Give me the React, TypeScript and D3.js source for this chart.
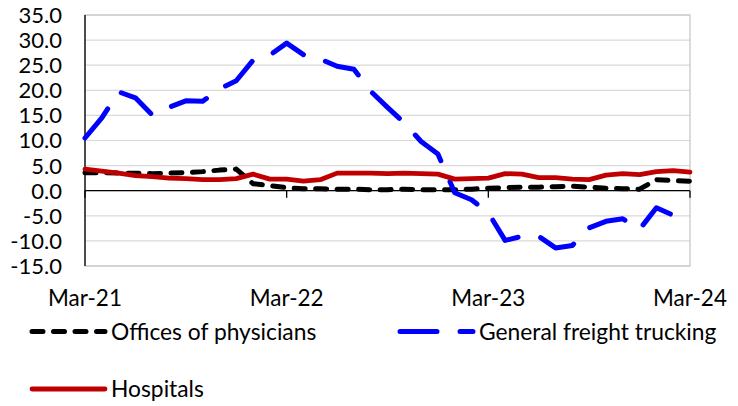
import * as d3 from 'd3';

const months = [
  'Mar-21', 'Apr-21', 'May-21', 'Jun-21', 'Jul-21', 'Aug-21', 'Sep-21', 'Oct-21', 'Nov-21', 'Dec-21', 'Jan-22', 'Feb-22',
  'Mar-22', 'Apr-22', 'May-22', 'Jun-22', 'Jul-22', 'Aug-22', 'Sep-22', 'Oct-22', 'Nov-22', 'Dec-22', 'Jan-23', 'Feb-23',
  'Mar-23', 'Apr-23', 'May-23', 'Jun-23', 'Jul-23', 'Aug-23', 'Sep-23', 'Oct-23', 'Nov-23', 'Dec-23', 'Jan-24', 'Feb-24',
  'Mar-24',
];
const xTickLabels = ['Mar-21', 'Mar-22', 'Mar-23', 'Mar-24'];
const yTicks = [35, 30, 25, 20, 15, 10, 5, 0, -5, -10, -15];

const physicians = [
  3.6, 3.6, 3.5, 3.5, 3.4, 3.5, 3.6, 3.8, 4.1, 4.3, 1.4, 1.0,
  0.6, 0.4, 0.4, 0.3, 0.3, 0.2, 0.2, 0.3, 0.2, 0.2, 0.2, 0.3,
  0.5, 0.6, 0.7, 0.7, 0.8, 0.9, 0.7, 0.5, 0.4, 0.3, 2.2, 2.0,
  1.9,
];
const trucking: (number | null)[] = [
  10.5, 14.5, 19.7, 18.5, 15.1, 16.6, 17.9, 17.8, 20.3, 21.9, 26.0, 27.0,
  29.4, 27.1, 26.2, 24.8, 24.2, 19.8, 16.6, 13.5, 9.8, 7.3, -0.4, -1.8,
  -4.4, -9.9, -9.1, -9.1, -11.4, -10.9, -7.4, -6.1, -5.6, -7.7, -3.4, -4.9,
  null,
];
const hospitals = [
  4.3, 3.9, 3.5, 3.0, 2.8, 2.5, 2.4, 2.2, 2.2, 2.4, 3.3, 2.3,
  2.3, 1.9, 2.2, 3.5, 3.5, 3.5, 3.4, 3.5, 3.4, 3.3, 2.3, 2.4,
  2.5, 3.4, 3.3, 2.6, 2.6, 2.3, 2.2, 3.1, 3.4, 3.2, 3.8, 4.0,
  3.7,
];

const series = [
  { name: 'Offices of physicians', values: physicians, color: '#000000', width: 5, dash: '11 10.5' },
  { name: 'General freight trucking', values: trucking, color: '#0000FF', width: 5, dash: '37 23' },
  { name: 'Hospitals', values: hospitals, color: '#C00000', width: 4.8, dash: null },
];

const FONT = 'Lato, "Open Sans", sans-serif';

export default function App() {
  const left = 85, right = 690, top = 15, bottom = 266;

  const x = d3.scalePoint<string>().domain(months).range([left, right]);
  const y = d3.scaleLinear().domain([-15, 35]).range([bottom, top]);

  const line = d3.line<number | null>()
    .defined(d => d !== null)
    .x((_, i) => x(months[i]) as number)
    .y(d => y(d as number));

  const legendItems = [
    { s: series[0], lx: 32, ly: 331.5 },
    { s: series[1], lx: 400, ly: 331.5 },
    { s: series[2], lx: 32, ly: 389 },
  ];

  return (
    <svg width={738} height={406} style={{ position: 'absolute', left: 0, top: 0, background: '#fff' }}
      fontFamily={FONT}>
      {/* gridlines */}
      {yTicks.map(t => (
        <line key={t} x1={left} x2={right} y1={y(t)} y2={y(t)} stroke="#D9D9D9" strokeWidth={1.2} />
      ))}
      <rect x={left} y={top} width={right - left} height={bottom - top} fill="none" stroke="#C8C8C8" strokeWidth={1.3} />

      {/* y axis */}
      <line x1={left} x2={left} y1={top} y2={bottom} stroke="#000" strokeWidth={1.3} />
      {yTicks.map(t => (
        <text key={t} x={62} y={y(t)} dy="0.36em" textAnchor="end" fontSize={22} fill="#000">
          {t.toFixed(1)}
        </text>
      ))}

      {/* zero axis with ticks */}
      <line x1={left} x2={right} y1={y(0)} y2={y(0)} stroke="#000" strokeWidth={1.3} />
      {xTickLabels.map(m => (
        <line key={m} x1={x(m)} x2={x(m)} y1={y(0)} y2={y(0) + 7} stroke="#000" strokeWidth={1.3} />
      ))}
      {xTickLabels.map(m => (
        <text key={m} x={x(m)} y={306} textAnchor="middle" fontSize={22.5} fill="#000">{m}</text>
      ))}

      {/* series */}
      {series.map(s => (
        <path key={s.name} d={line(s.values) || ''} fill="none" stroke={s.color} strokeWidth={s.width}
          strokeDasharray={s.dash || undefined} strokeLinecap="round" strokeLinejoin="round" />
      ))}

      {/* legend */}
      {legendItems.map(({ s, lx, ly }) => (
        <g key={s.name}>
          <line x1={lx} x2={lx + 73} y1={ly} y2={ly} stroke={s.color} strokeWidth={s.width}
            strokeDasharray={s.dash || undefined} strokeLinecap="round" />
          <text x={lx + 79} y={ly} dy="0.36em" fontSize={22.8} fill="#000">{s.name}</text>
        </g>
      ))}
    </svg>
  );
}
